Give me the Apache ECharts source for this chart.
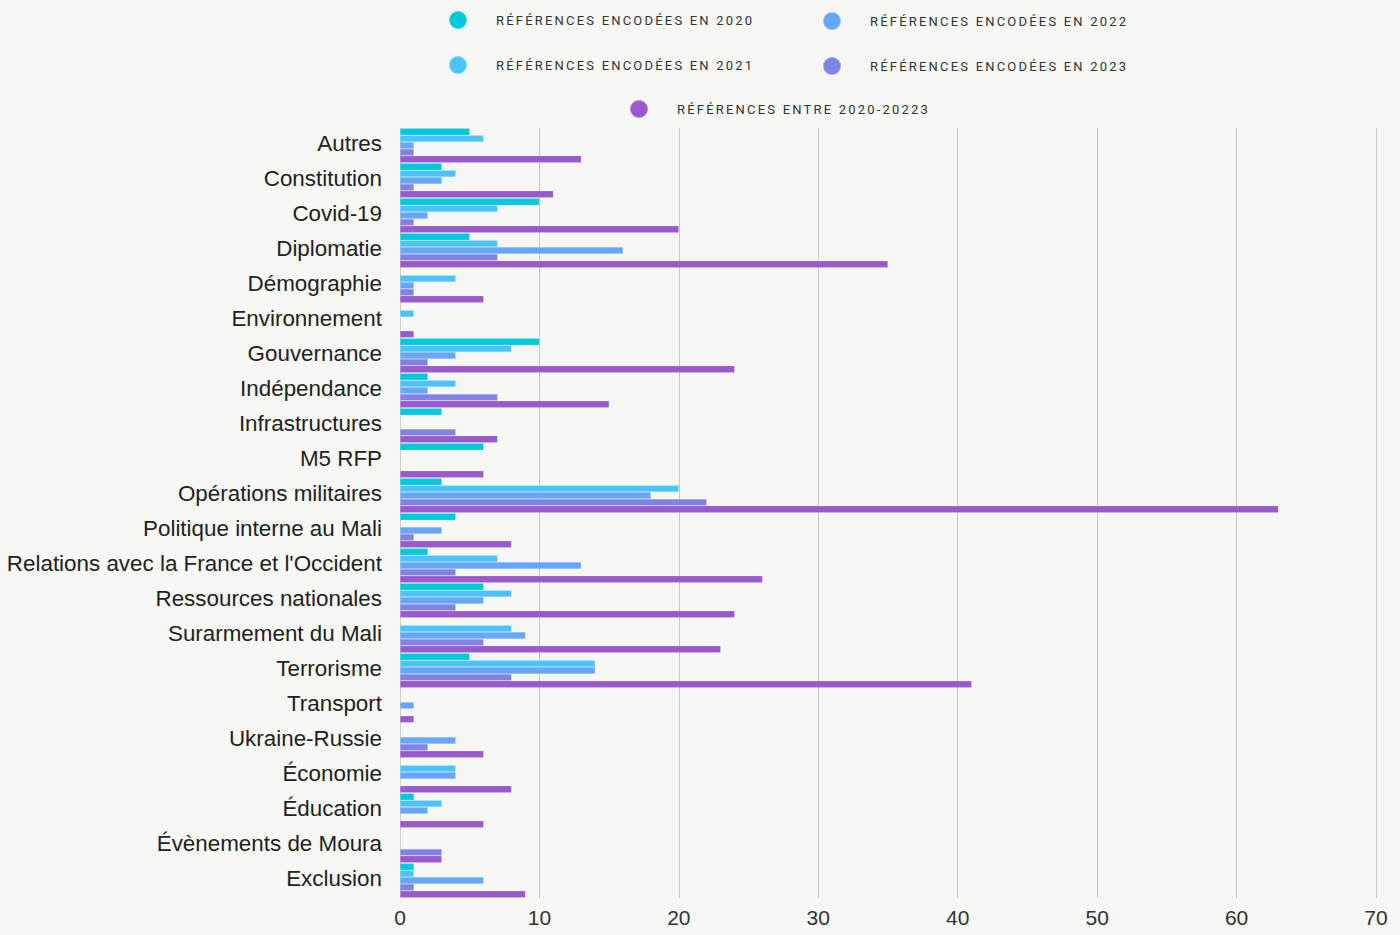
<!DOCTYPE html>
<html>
<head>
<meta charset="utf-8">
<title>Références encodées</title>
<script src="https://cdn.jsdelivr.net/npm/echarts@6/dist/echarts.min.js"></script>
<style>
  html, body { margin: 0; padding: 0; background: #f7f7f5; }
  /* espacement des lettres de la légende (rendu svg) */
  #main text[style*="Roboto"] { letter-spacing: 2.2px; }
</style>
</head>
<body>
<div id="main" style="width:1400px;height:935px;"></div>
<script type="text/javascript">
var categories = ['Autres', 'Constitution', 'Covid-19', 'Diplomatie', 'Démographie', 'Environnement',
    'Gouvernance', 'Indépendance', 'Infrastructures', 'M5 RFP', 'Opérations militaires',
    'Politique interne au Mali', "Relations avec la France et l'Occident", 'Ressources nationales',
    'Surarmement du Mali', 'Terrorisme', 'Transport', 'Ukraine-Russie', 'Économie', 'Éducation',
    'Évènements de Moura', 'Exclusion'];

var refs2020  = [5, 3, 10, 5, 0, 0, 10, 2, 3, 6, 3, 4, 2, 6, 0, 5, 0, 0, 0, 1, 0, 1];
var refs2021  = [6, 4, 7, 7, 4, 1, 8, 4, 0, 0, 20, 0, 7, 8, 8, 14, 0, 0, 4, 3, 0, 1];
var refs2022  = [1, 3, 2, 16, 1, 0, 4, 2, 0, 0, 18, 3, 13, 6, 9, 14, 1, 4, 4, 2, 0, 6];
var refs2023  = [1, 1, 1, 7, 1, 0, 2, 7, 4, 0, 22, 1, 4, 4, 6, 8, 0, 2, 0, 0, 3, 1];
var refsTotal = [13, 11, 20, 35, 6, 1, 24, 15, 7, 6, 63, 8, 26, 24, 23, 41, 1, 6, 8, 6, 3, 9];

var names = ['RÉFÉRENCES ENCODÉES EN 2020', 'RÉFÉRENCES ENCODÉES EN 2021',
    'RÉFÉRENCES ENCODÉES EN 2022', 'RÉFÉRENCES ENCODÉES EN 2023', 'RÉFÉRENCES ENTRE 2020-20223'];
var colors = ['#00c9dc', '#4bc4fd', '#67a6f9', '#8181e6', '#9a59cc'];
var values = [refs2020, refs2021, refs2022, refs2023, refsTotal];

var legendText = {
    color: '#333',
    fontSize: 13,
    fontFamily: 'Roboto',
    padding: [0, 0, 0, 24]
};
function legendAt(left, top, data) {
    return {
        left: left, top: top, orient: 'vertical',
        icon: 'circle', itemWidth: 18, itemHeight: 18, itemGap: 25,
        selectedMode: false,
        textStyle: legendText,
        data: data
    };
}

var series = names.map(function (n, i) {
    return {
        name: n,
        type: 'bar',
        data: values[i],
        barGap: '0%',
        barCategoryGap: '2%',
        itemStyle: { color: colors[i], borderColor: 'rgba(255,255,255,0.3)', borderWidth: 0.5 }
    };
});

var option = {
    backgroundColor: '#f7f7f5',
    animation: false,
    color: colors,
    legend: [
        legendAt(443, 5, [names[0], names[1]]),
        legendAt(817, 6, [names[2], names[3]]),
        legendAt(624, 94, [names[4]])
    ],
    grid: { left: 400, right: 24, top: 128, bottom: 37 },
    xAxis: {
        type: 'value',
        min: 0, max: 70, interval: 10,
        axisLine: { show: false },
        axisTick: { show: false },
        axisLabel: { color: '#333', fontSize: 21, fontFamily: 'Liberation Sans, Arial, sans-serif', margin: 9 },
        splitLine: { lineStyle: { color: '#c8c8c8', width: 1 } }
    },
    yAxis: {
        type: 'category',
        inverse: true,
        data: categories,
        axisLine: { show: false },
        axisTick: { show: false },
        axisLabel: {
            color: '#222', fontSize: 22.4, fontFamily: 'Liberation Sans, Arial, sans-serif',
            margin: 18, verticalAlign: 'bottom', lineHeight: 4
        }
    },
    series: series
};

var myChart = echarts.init(document.getElementById('main'), null, { renderer: 'svg' });
myChart.setOption(option);
</script>
</body>
</html>
